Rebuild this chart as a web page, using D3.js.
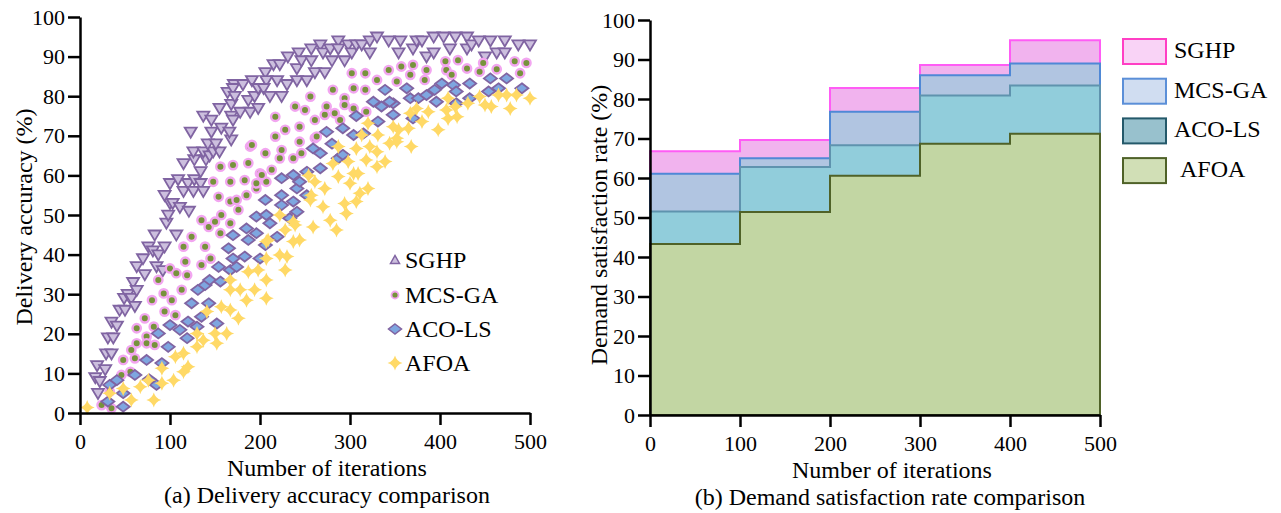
<!DOCTYPE html>
<html>
<head>
<meta charset="utf-8">
<script src="https://cdn.jsdelivr.net/npm/d3@7"></script>
<style>
  body { margin: 0; background: #fff; }
  svg { display: block; font-family: "Liberation Serif", "Times New Roman", serif; }
  .axis path, .axis line { stroke: #000; stroke-width: 2.5; }
  .axis text { font-size: 22px; fill: #000; font-family: "Liberation Serif", serif; }
</style>
</head>
<body>
<svg id="chart" width="1281" height="513"></svg>
<script>
// (a) delivery accuracy, [iterations, accuracy %]
const sghp = [[17,9],[20,5],[19,12],[22,8],[28,11],[29,15],[35,15],[31,19],[37,19],[35,23],[41,22],[44,26],[50,26],[49,29],[53,30],[57,29],[61,27],[59,33],[63,31],[63,37],[70,39],[72,35],[76,42],[81,41],[83,45],[87,40],[85,37],[92,36],[94,42],[96,48],[98,50],[107,45],[100,53],[103,53],[111,52],[121,51],[94,55],[100,58],[109,59],[115,56],[120,58],[126,56],[127,59],[134,58],[137,56],[134,61],[115,63],[127,64],[140,64],[126,66],[137,66],[144,65],[148,66],[155,66],[142,68],[151,68],[123,71],[146,71],[157,72],[168,69],[166,71],[137,75],[146,74],[155,77],[168,75],[170,74],[168,78],[164,81],[171,83],[170,82],[172,80],[178,76],[181,83],[187,79],[189,76],[191,84],[194,80],[198,82],[198,77],[206,86],[207,84],[204,82],[211,80],[215,88],[219,84],[222,88],[224,80],[230,83],[231,90],[241,87],[243,91],[241,84],[246,89],[252,84],[257,92],[257,89],[261,86],[267,93],[272,86],[270,91],[278,92],[280,89],[287,94],[287,92],[294,89],[298,93],[302,91],[307,93],[313,93],[322,94],[322,91],[330,95],[343,94],[354,91],[356,94],[370,92],[374,94],[380,94],[385,90],[393,91],[393,95],[404,95],[411,92],[417,95],[430,95],[430,92],[435,93],[443,94],[450,90],[456,94],[463,91],[472,91],[472,94],[487,93],[500,93]];
const mcsga = [[24,2],[33,5.4],[35,1.2],[46,9.6],[48,13.4],[56,10.4],[57,15.9],[61,13.8],[63,21.4],[63,17.6],[72,23.9],[74,19.3],[74,17.6],[80,28.5],[82,21.8],[83,17.2],[87,33.6],[93,30.2],[94,25.6],[100,36.5],[102,28.5],[106,24.7],[107,35.3],[113,31.1],[115,42],[117,38.2],[119,34.8],[124,44.5],[135,48.7],[135,37.4],[139,42],[143,47],[145,39],[150,48.3],[156,45.4],[157,50],[167,47.9],[176,51.3],[156,62.2],[148,58.4],[154,54.6],[167,58.4],[167,53.4],[174,53.8],[183,58.8],[187,63.1],[189,67.3],[185,55],[196,56.7],[200,60.5],[206,65.6],[207,58.4],[213,61.4],[217,69.8],[217,74.8],[224,66.4],[228,71.5],[237,64.3],[239,77.4],[244,72.3],[244,68.5],[246,65.6],[250,76.5],[256,79.9],[261,69.4],[261,74],[222,64.3],[202,60.1],[191,67.7],[170,62.6],[196,58],[272,75.3],[274,77.4],[283,75.7],[289,74],[294,79.5],[294,77.8],[281,81.6],[304,76.9],[304,82],[302,85.8],[317,85.8],[317,81.6],[318,76.1],[330,84.1],[343,86.6],[352,83.7],[263,69.8],[357,87.5],[370,87.9],[367,85.4],[385,86.6],[383,84.1],[406,88.8],[407,86.6],[413,85.4],[420,89.1],[430,87],[448,88.4],[444,86.2],[463,86.8],[483,88.8],[496,88.4],[489,85.8]];
const acols = [[33,7.1],[31,2.9],[41,8.3],[48,5],[48,1.6],[61,9.6],[74,13.4],[77,8.5],[85,7.1],[87,20.1],[91,12.6],[98,16.7],[100,22.2],[111,21],[119,18.9],[120,23.1],[124,27.7],[130,21.8],[131,31.1],[135,24.3],[139,32.3],[143,27.7],[144,33.6],[152,22.6],[154,36.9],[156,33.2],[165,41.6],[167,36.1],[170,39],[174,36.9],[170,44.9],[183,39.5],[185,46.6],[187,43.7],[196,45.4],[196,49.6],[206,42.4],[207,50],[211,47.9],[200,39],[219,44.5],[224,52.5],[233,49.2],[237,53.4],[241,50.8],[206,53.8],[224,55],[241,56.7],[252,55],[237,60.1],[244,58.4],[224,59.3],[252,60.9],[267,61.8],[259,66.8],[267,65.6],[287,64.3],[292,65.2],[280,68],[274,71],[292,71.9],[304,70.2],[315,70.6],[307,75],[331,73.6],[326,78.6],[335,77.4],[339,81.6],[348,78.2],[348,75.3],[344,78.6],[363,82],[367,79.5],[370,74.4],[376,79.5],[385,80.3],[394,81.6],[396,78.6],[402,83.2],[415,82.8],[418,81.2],[418,78.2],[433,83.2],[433,79.5],[454,81.2],[456,84.5],[465,82],[474,84.5],[491,82]];
const afoa = [[8,1.4],[33,5],[48,6.2],[57,3.3],[67,6.6],[76,8.3],[82,3.3],[91,11.3],[91,7.5],[104,8.3],[106,14.2],[115,15.1],[115,10.4],[120,11.7],[130,16.7],[130,20.1],[137,18.4],[141,25.6],[150,20.1],[152,17.6],[157,26.8],[163,20.1],[167,33.6],[167,31.1],[167,26],[176,23.9],[178,31.1],[185,28.5],[187,35.7],[194,31.1],[198,36.1],[207,29],[207,33.6],[207,39],[207,43.3],[222,39.9],[228,36.1],[230,39.5],[237,43.3],[239,47.5],[222,50],[209,43.7],[228,46.2],[237,48.3],[244,43.7],[259,47],[278,48.7],[285,46.2],[256,53.8],[270,52.1],[254,60],[261,58.4],[272,56.7],[257,55],[281,63],[287,67.3],[287,59.7],[294,52.9],[296,50.4],[298,63.5],[300,58],[304,60.5],[307,53.4],[309,60.5],[307,66.8],[311,55.5],[313,70.2],[318,63.9],[320,73.2],[320,56.7],[322,67.3],[330,66],[330,62.2],[331,70.2],[339,63.5],[344,68.1],[348,72.3],[352,69.4],[354,71.5],[352,68.5],[368,67.3],[365,71.9],[367,75.7],[374,76.9],[380,73.6],[387,76.1],[398,71.5],[407,76.5],[409,79.5],[409,74.4],[417,77.4],[419,74.8],[431,78.2],[444,79.9],[450,77.8],[457,77.4],[465,80.3],[474,80.3],[478,76.9],[485,80.3],[500,79.5]];

// (b) demand satisfaction rate, one value per 100-iteration step
const stepStarts = [0, 100, 200, 300, 400, 500];
const sghpRate  = [66.8, 69.6, 82.8, 88.6, 94.9];
const mcsgaRate = [61.1, 65.0, 76.8, 86.0, 89.0];
const acolsRate = [51.5, 62.8, 68.3, 80.9, 83.4];
const afoaRate  = [43.3, 51.4, 60.6, 68.7, 71.2];

const ticksY = d3.range(0, 101, 10);
const ticksX = [0, 100, 200, 300, 400, 500];

const svg = d3.select("#chart");

// marker shapes
const triDown = "M-6,-4.3L6,-4.3L0,5.8Z";
const triUp = "M-4.5,3.5L4.5,3.5L0,-4.5Z";
const diamond = "M0,-5L6.5,0L0,5L-6.5,0Z";
const star4 = "M0,-7.5Q1.6,-1.6 7.5,0Q1.6,1.6 0,7.5Q-1.6,1.6 -7.5,0Q-1.6,-1.6 0,-7.5Z";

// ---------- (a) scatter ----------
let xa = d3.scaleLinear().domain([0, 500]).range([80, 530]);
let ya = d3.scaleLinear().domain([0, 100]).range([413, 17]);

let gA = svg.append("g");

gA.selectAll("path.sghp")
  .data(sghp).enter().append("path")
  .attr("d", triDown)
  .attr("transform", d => `translate(${xa(d[0])},${ya(d[1])})`)
  .attr("fill", "#ccbfde").attr("stroke", "#8064a2").attr("stroke-width", 1.8);

gA.selectAll("circle.mcs")
  .data(mcsga).enter().append("circle")
  .attr("cx", d => xa(d[0])).attr("cy", d => ya(d[1])).attr("r", 4.2)
  .attr("fill", "#77933c").attr("stroke", "#f2a6f0").attr("stroke-width", 2.4);

gA.selectAll("path.aco")
  .data(acols).enter().append("path")
  .attr("d", diamond)
  .attr("transform", d => `translate(${xa(d[0])},${ya(d[1])})`)
  .attr("fill", "#7ea6e0").attr("stroke", "#8064a2").attr("stroke-width", 1.8);

gA.selectAll("path.afoa")
  .data(afoa).enter().append("path")
  .attr("d", star4)
  .attr("transform", d => `translate(${xa(d[0])},${ya(d[1])})`)
  .attr("fill", "#ffd966");

svg.append("g").attr("class", "axis")
  .attr("transform", "translate(80,0)")
  .call(d3.axisLeft(ya).tickValues(ticksY).tickSize(12).tickSizeOuter(0).tickPadding(3));
svg.append("g").attr("class", "axis")
  .attr("transform", "translate(0,413)")
  .call(d3.axisBottom(xa).tickValues(ticksX).tickSize(12).tickSizeOuter(0).tickPadding(8));

// legend (a)
const legA = [
  {name: "SGHP", y: 260},
  {name: "MCS-GA", y: 295},
  {name: "ACO-LS", y: 329},
  {name: "AFOA", y: 363}
];
svg.append("path").attr("d", triUp).attr("transform", `translate(395,${legA[0].y})`)
  .attr("fill", "#ccbfde").attr("stroke", "#8064a2").attr("stroke-width", 1.5);
svg.append("circle").attr("cx", 395).attr("cy", legA[1].y).attr("r", 3.5)
  .attr("fill", "#77933c").attr("stroke", "#f2a6f0").attr("stroke-width", 1.8);
svg.append("path").attr("d", diamond).attr("transform", `translate(395,${legA[2].y})`)
  .attr("fill", "#7ea6e0").attr("stroke", "#8064a2").attr("stroke-width", 1.5);
svg.append("path").attr("d", star4).attr("transform", `translate(395,${legA[3].y})`)
  .attr("fill", "#ffd966");
svg.selectAll("text.lega").data(legA).enter().append("text")
  .attr("x", 405).attr("y", d => d.y + 8)
  .style("font-size", "24px").text(d => d.name);

svg.append("text").attr("x", 327).attr("y", 476).attr("text-anchor", "middle")
  .style("font-size", "24px").text("Number of iterations");
svg.append("text").attr("x", 327).attr("y", 503).attr("text-anchor", "middle")
  .style("font-size", "24px").text("(a) Delivery accuracy comparison");
svg.append("text").attr("transform", "translate(32,217) rotate(-90)").attr("text-anchor", "middle")
  .style("font-size", "24px").text("Delivery accuracy (%)");

// ---------- (b) step areas ----------
let xb = d3.scaleLinear().domain([0, 500]).range([650, 1100]);
let yb = d3.scaleLinear().domain([0, 100]).range([415, 20]);

const series = [
  {name: "SGHP", vals: sghpRate, fill: "#f1b3ee", line: "#ff5cf5", swFill: "#f9d3f6", swLine: "#ff3fc4"},
  {name: "MCS-GA", vals: mcsgaRate, fill: "#b1c5e1", line: "#4f88d6", swFill: "#d0ddf1", swLine: "#5b8fd8"},
  {name: "ACO-LS", vals: acolsRate, fill: "#91cddb", line: "#5f93ae", swFill: "#98c1cd", swLine: "#24596a"},
  {name: "AFOA", vals: afoaRate, fill: "#c2d6a3", line: "#4f6228", swFill: "#d1dfb6", swLine: "#4f6228"}
];

let area = d3.area()
  .curve(d3.curveStepAfter)
  .x(d => xb(d.x))
  .y0(yb(0))
  .y1(d => yb(d.v));

let gB = svg.append("g");
series.forEach(s => {
  let pts = stepStarts.map((x, i) => ({x: x, v: s.vals[Math.min(i, s.vals.length - 1)]}));
  gB.append("path")
    .attr("d", area(pts))
    .attr("fill", s.fill)
    .attr("stroke", s.line)
    .attr("stroke-width", 2);
});

svg.append("g").attr("class", "axis")
  .attr("transform", "translate(650,0)")
  .call(d3.axisLeft(yb).tickValues(ticksY).tickSize(12).tickSizeOuter(0).tickPadding(3));
svg.append("g").attr("class", "axis")
  .attr("transform", "translate(0,415)")
  .call(d3.axisBottom(xb).tickValues(ticksX).tickSize(12).tickSizeOuter(0).tickPadding(8));

// legend (b)
let legB = svg.append("g").attr("transform", "translate(1123,39)");
series.forEach((s, i) => {
  legB.append("rect")
    .attr("x", 0).attr("y", i * 39.7)
    .attr("width", 43).attr("height", 25)
    .attr("fill", s.swFill).attr("stroke", s.swLine).attr("stroke-width", 2);
  legB.append("text")
    .attr("x", s.name === "AFOA" ? 57 : 51).attr("y", i * 39.7 + 19)
    .style("font-size", "24px").text(s.name);
});

svg.append("text").attr("x", 892).attr("y", 478).attr("text-anchor", "middle")
  .style("font-size", "24px").text("Number of iterations");
svg.append("text").attr("x", 890).attr("y", 505).attr("text-anchor", "middle")
  .style("font-size", "24px").text("(b) Demand satisfaction rate comparison");
svg.append("text").attr("transform", "translate(607,225) rotate(-90)").attr("text-anchor", "middle")
  .style("font-size", "24px").text("Demand satisfaction rate (%)");
</script>
</body>
</html>
